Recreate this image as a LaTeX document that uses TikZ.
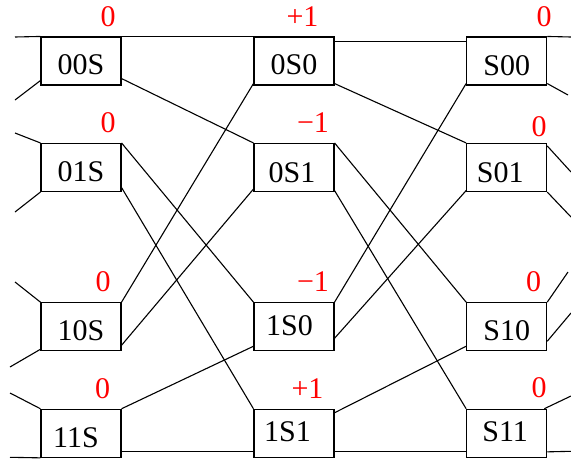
\documentclass[tikz,border=0pt]{standalone}
\usepackage{fontspec}
\setmainfont{Liberation Serif}
\begin{document}
\begin{tikzpicture}[x=1pt,y=-1pt,
  box/.style={draw,line width=1.1pt,minimum width=80pt,minimum height=48pt,inner sep=0pt,text depth=0pt,text height=26.5pt,font=\fontsize{30}{36}\selectfont},
  val/.style={text=red,inner sep=0pt,font=\fontsize{30}{36}\selectfont},
  wire/.style={line width=1.1pt}]
\useasboundingbox (0,0) rectangle (571,461);
% boxes
\node[box] (a00) at (81,61) {00S};
\node[box,text height=27.3pt] (a01) at (81,167.5) {01S};
\node[box,text height=26.7pt] (a10) at (81,326.7) {10S};
\node[box,text height=28.5pt] (a11) at (81,433.3) {\hspace*{-10pt}11S};
\node[box] (b0) at (294,61) {0S0};
\node[box,text height=29.3pt] (b1) at (294,167.5) {\hspace*{-4pt}0S1};
\node[box,text height=17.9pt] (b2) at (294,326.7) {\hspace*{-9pt}1S0};
\node[box,text height=16.7pt] (b3) at (294,433.3) {\hspace*{-13pt}1S1};
\node[box,text height=28.3pt] (c00) at (506.7,61) {S00};
\node[box,text height=29.3pt] (c01) at (506.7,167.5) {\hspace*{-13pt}S01};
\node[box,text height=27.9pt] (c10) at (506.7,326.7) {S10};
\node[box,text height=15.7pt] (c11) at (506.7,433.3) {\hspace*{-3pt}S11};
% values
\node[val] (va00) at (108,17) {0};
\node[val] (va01) at (108,122.5) {0};
\node[val] (va10) at (103,281.5) {0};
\node[val] (va11) at (102.5,389) {0};
\node[val] (vb0) at (302.5,17) {+1};
\node[val] (vb1) at (313,123) {−1};
\node[val] (vb2) at (313,281.5) {−1};
\node[val] (vb3) at (307.5,389) {+1};
\node[val] (vc00) at (544,17) {0};
\node[val] (vc01) at (539,127) {0};
\node[val] (vc10) at (533.5,282) {0};
\node[val] (vc11) at (539,387.5) {0};
% free ends
\coordinate (l1) at (15,37);
\coordinate (l2) at (15,100);
\coordinate (l3) at (15,133);
\coordinate (l4) at (15,212);
\coordinate (l5) at (15,282);
\coordinate (l6) at (10,367);
\coordinate (l7) at (10,393);
\coordinate (l8) at (10,457.3);
\coordinate (r1) at (571,37);
\coordinate (r2) at (568,95);
\coordinate (r3) at (571,172);
\coordinate (r4) at (571,217);
\coordinate (r5) at (568,272);
\coordinate (r6) at (571,313);
\coordinate (r7) at (571,396);
\coordinate (r8) at (571,451.3);
% left stubs
\draw[wire] (l1) -- (a00.north west);
\draw[wire] (l2) -- ([yshift=5pt]a00.south west);
\draw[wire] (l3) -- (a01.north west);
\draw[wire] (l4) -- (a01.south west);
\draw[wire] (l5) -- (a10.north west);
\draw[wire] (l6) -- ([yshift=2pt]a10.south west);
\draw[wire] (l7) -- (a11.north west);
\draw[wire] (l8) -- (a11.south west);
% left to middle
\draw[wire] (a00.north east) -- (b0.north west);
\draw[wire] ([yshift=7pt]a00.south east) -- (b1.north west);
\draw[wire] (a01.north east) -- (b2.north west);
\draw[wire] ([yshift=4.5pt]a01.south east) -- (b3.north west);
\draw[wire] (a10.north east) -- ([yshift=2pt]b0.south west);
\draw[wire] ([yshift=6pt]a10.south east) -- ([yshift=3pt]b1.south west);
\draw[wire] (a11.north east) -- ([yshift=5pt]b2.south west);
\draw[wire] ([yshift=6pt]a11.south east) -- ([yshift=6pt]b3.south west);
% middle to right
\draw[wire] ([yshift=-5pt]b0.north east) -- ([yshift=-5pt]c00.north west);
\draw[wire] ([yshift=2pt]b0.south east) -- (c01.north west);
\draw[wire] (b1.north east) -- (c10.north west);
\draw[wire] ([yshift=1.5pt]b1.south east) -- (c11.north west);
\draw[wire] (b2.north east) -- ([yshift=2pt]c00.south west);
\draw[wire] ([yshift=13pt]b2.south east) -- ([yshift=1.5pt]c01.south west);
\draw[wire] ([yshift=-4pt]b3.north east) -- ([yshift=5pt]c10.south west);
\draw[wire] ([yshift=6pt]b3.south east) -- ([yshift=6pt]c11.south west);
% right stubs
\draw[wire] (c00.north east) -- (r1);
\draw[wire] ([yshift=2pt]c00.south east) -- (r2);
\draw[wire] ([yshift=-3pt]c01.north east) -- (r3);
\draw[wire] (c01.south east) -- (r4);
\draw[wire] (c10.north east) -- (r5);
\draw[wire] ([yshift=10pt]c10.south east) -- (r6);
\draw[wire] ([xshift=-3pt]c11.north east) -- (r7);
\draw[wire] ([yshift=6pt]c11.south east) -- (r8);
\end{tikzpicture}
\end{document}
